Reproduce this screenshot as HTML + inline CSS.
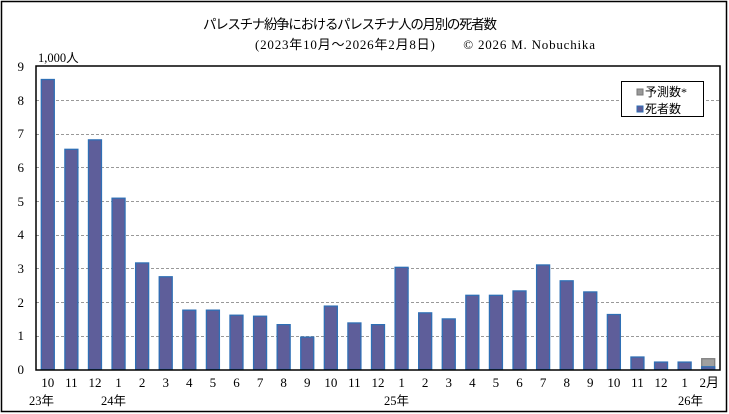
<!DOCTYPE html>
<html><head><meta charset="utf-8"><style>
html,body{margin:0;padding:0;background:#fff;}
svg{display:block;}
text{font-family:"Liberation Serif","Noto Sans CJK JP",serif;fill:#000;}
</style></head><body>
<svg width="729" height="414" xmlns="http://www.w3.org/2000/svg">
<rect x="1.5" y="1.5" width="725" height="410" fill="#fff" stroke="#000" stroke-width="1.5"/>
<text x="203" y="29" font-size="13.5" font-family="Noto Sans CJK JP, sans-serif" textLength="294">パレスチナ紛争におけるパレスチナ人の月別の死者数</text>
<text x="255" y="49" font-size="13" textLength="340">(2023年10月～2026年2月8日)　　©  2026 M. Nobuchika</text>
<text x="38" y="62" font-size="12.5">1,000人</text>
<g id="grid" stroke="#999" stroke-dasharray="3,2" stroke-width="1">
<line x1="36" x2="720" y1="100.5" y2="100.5"/><line x1="36" x2="720" y1="134.5" y2="134.5"/>
<line x1="36" x2="720" y1="167.5" y2="167.5"/><line x1="36" x2="720" y1="201.5" y2="201.5"/>
<line x1="36" x2="720" y1="235.5" y2="235.5"/><line x1="36" x2="720" y1="268.5" y2="268.5"/>
<line x1="36" x2="720" y1="302.5" y2="302.5"/><line x1="36" x2="720" y1="336.5" y2="336.5"/>
</g>
<g font-size="13" text-anchor="end">
<text x="24" y="374">0</text><text x="24" y="340">1</text><text x="24" y="307">2</text><text x="24" y="273">3</text><text x="24" y="239">4</text><text x="24" y="206">5</text><text x="24" y="172">6</text><text x="24" y="138">7</text><text x="24" y="105">8</text><text x="24" y="71">9</text>
</g>
<g id="bars"></g>
<rect x="36" y="66" width="684" height="304" fill="none" stroke="#000" stroke-width="1.5"/>
<g id="xl" font-size="13" text-anchor="middle"></g>
<text x="29" y="405" font-size="12.5">23年</text>
<text x="101" y="405" font-size="12.5">24年</text>
<text x="384" y="405" font-size="12.5">25年</text>
<text x="678" y="405" font-size="12.5">26年</text>
<rect x="621.5" y="81.5" width="82" height="35" fill="#fff" stroke="#000"/>
<rect x="637" y="89" width="6" height="6" fill="#999" stroke="#777"/>
<text x="645" y="96" font-size="12" font-family="Noto Sans CJK JP, sans-serif">予測数*</text>
<rect x="637" y="106" width="6" height="6" fill="#5c5c98" stroke="#2f6fb5"/>
<text x="645" y="113" font-size="12" font-family="Noto Sans CJK JP, sans-serif">死者数</text>
</svg>
<script>
var v=[8.6,6.53,6.81,5.08,3.16,2.75,1.76,1.76,1.61,1.58,1.33,0.96,1.88,1.38,1.33,3.03,1.68,1.5,2.2,2.2,2.33,3.1,2.63,2.3,1.63,0.37,0.22,0.22,0.08];
var lab=["10","11","12","1","2","3","4","5","6","7","8","9","10","11","12","1","2","3","4","5","6","7","8","9","10","11","12","1","2月"];
var ns="http://www.w3.org/2000/svg",b=document.getElementById("bars"),xl=document.getElementById("xl");
var w=684/29,u=33.72,z=369.5;
function r(x,y,W,H,f,s){var e=document.createElementNS(ns,"rect");e.setAttribute("x",x);e.setAttribute("y",y);e.setAttribute("width",W);e.setAttribute("height",H);e.setAttribute("fill",f);e.setAttribute("stroke",s);e.setAttribute("stroke-width","1.3");b.appendChild(e);}
for(var i=0;i<29;i++){var c=36+w*(i+0.5);
if(i==28){r(c-6.5,z-0.32*u,13,0.32*u,"#a0a0a0","#808080");}
r(c-6.5,z-v[i]*u,13,v[i]*u,"#5e5e9a","#2f6fb5");
var t=document.createElementNS(ns,"text");t.setAttribute("x",i==28?c+1:c);t.setAttribute("y",387);t.textContent=lab[i];xl.appendChild(t);}
</script>
</body></html>
